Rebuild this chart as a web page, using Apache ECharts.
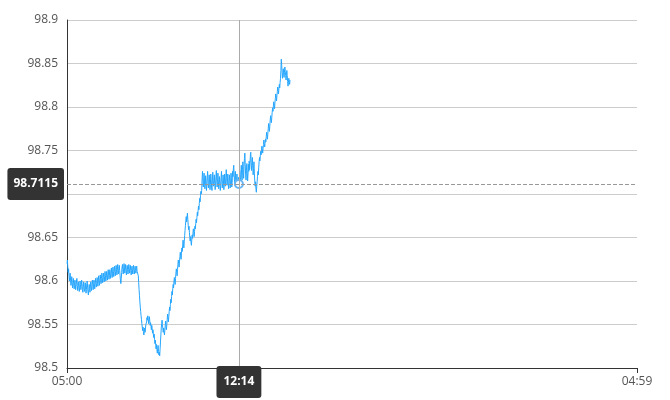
<!DOCTYPE html>
<html>
<head>
<meta charset="utf-8">
<script src="https://cdn.jsdelivr.net/npm/echarts@6/dist/echarts.min.js"></script>
<style>
html,body{margin:0;padding:0;background:#fff;}
#chart{width:670px;height:400px;}
</style>
</head>
<body>
<div id="chart"></div>
<script>
// X categories: one per minute from 05:00 to 04:59 next day
const startMinute = 300;
const minuteCount = 1440;
const categories = [];
for (let i = 0; i < minuteCount; i++) {
  const m = (startMinute + i) % 1440;
  categories.push(String(Math.floor(m / 60)).padStart(2, '0') + ':' + String(m % 60).padStart(2, '0'));
}

// Y axis range / ticks
const yMin = 98.5, yMax = 98.9, yStep = 0.05;

// Hovered point
const hoverIndex = 434; // 12:14

// Series values (per minute from 05:00)
const priceValues = [
98.620,98.624,98.616,98.610,98.614,98.606,98.600,98.605,98.609,98.601,98.595,98.599,98.605,98.598,98.592,98.596,98.603,98.597,98.591,98.595,
98.601,98.596,98.590,98.594,98.600,98.603,98.595,98.589,98.593,98.599,98.594,98.588,98.592,98.600,98.596,98.590,98.594,98.601,98.597,98.590,
98.587,98.593,98.599,98.594,98.588,98.591,98.598,98.592,98.586,98.590,98.597,98.600,98.593,98.587,98.584,98.590,98.596,98.591,98.587,98.594,
98.599,98.593,98.589,98.595,98.601,98.596,98.590,98.594,98.601,98.597,98.591,98.596,98.603,98.598,98.593,98.597,98.604,98.599,98.594,98.600,
98.606,98.601,98.595,98.600,98.607,98.602,98.597,98.603,98.609,98.604,98.598,98.602,98.609,98.604,98.599,98.605,98.611,98.606,98.600,98.604,
98.611,98.606,98.601,98.607,98.613,98.608,98.602,98.606,98.613,98.609,98.603,98.608,98.615,98.609,98.604,98.609,98.616,98.611,98.605,98.610,
98.617,98.612,98.606,98.611,98.618,98.613,98.607,98.612,98.619,98.614,98.608,98.613,98.618,98.612,98.606,98.600,98.597,98.603,98.610,98.616,
98.619,98.613,98.608,98.614,98.620,98.615,98.609,98.613,98.619,98.614,98.607,98.612,98.618,98.613,98.608,98.613,98.619,98.614,98.609,98.614,
98.618,98.612,98.607,98.612,98.617,98.613,98.608,98.614,98.618,98.612,98.608,98.613,98.617,98.612,98.609,98.614,98.617,98.611,98.613,98.611,
98.606,98.598,98.590,98.583,98.576,98.570,98.565,98.560,98.556,98.551,98.547,98.543,98.547,98.542,98.538,98.542,98.546,98.541,98.545,98.550,
98.548,98.553,98.558,98.555,98.560,98.556,98.551,98.555,98.559,98.554,98.549,98.552,98.548,98.544,98.549,98.545,98.540,98.544,98.539,98.535,
98.539,98.533,98.528,98.532,98.526,98.522,98.527,98.521,98.517,98.522,98.526,98.519,98.515,98.518,98.514,98.522,98.530,98.538,98.546,98.551,
98.555,98.550,98.545,98.541,98.546,98.543,98.538,98.543,98.549,98.554,98.548,98.544,98.550,98.556,98.562,98.558,98.553,98.559,98.565,98.570,
98.566,98.573,98.579,98.575,98.582,98.588,98.584,98.591,98.596,98.592,98.599,98.604,98.600,98.596,98.603,98.609,98.614,98.610,98.606,98.613,
98.619,98.624,98.620,98.616,98.622,98.628,98.633,98.629,98.625,98.632,98.638,98.634,98.641,98.647,98.643,98.638,98.645,98.652,98.658,98.664,
98.669,98.674,98.668,98.673,98.678,98.671,98.664,98.659,98.663,98.656,98.650,98.646,98.651,98.645,98.641,98.647,98.653,98.649,98.655,98.660,
98.656,98.651,98.657,98.663,98.660,98.666,98.671,98.667,98.673,98.679,98.675,98.681,98.686,98.682,98.689,98.695,98.691,98.698,98.703,98.700,
98.704,98.716,98.726,98.719,98.708,98.713,98.724,98.716,98.706,98.710,98.721,98.714,98.704,98.709,98.719,98.726,98.715,98.707,98.712,98.722,
98.713,98.705,98.711,98.723,98.717,98.708,98.704,98.715,98.725,98.716,98.709,98.713,98.722,98.712,98.705,98.710,98.720,98.727,98.716,98.708,
98.713,98.724,98.715,98.706,98.711,98.720,98.713,98.704,98.709,98.719,98.726,98.714,98.707,98.712,98.722,98.715,98.705,98.711,98.723,98.716,
98.709,98.718,98.728,98.719,98.710,98.714,98.723,98.713,98.706,98.712,98.722,98.716,98.707,98.711,98.724,98.718,98.708,98.713,98.726,98.720,
98.729,98.733,98.721,98.712,98.717,98.726,98.716,98.708,98.714,98.723,98.715,98.707,98.713,98.719,98.7115,98.717,98.727,98.719,98.712,98.724,
98.733,98.722,98.716,98.728,98.737,98.725,98.718,98.732,98.741,98.747,98.734,98.722,98.716,98.727,98.735,98.724,98.715,98.723,98.734,98.726,
98.738,98.728,98.735,98.745,98.748,98.736,98.727,98.734,98.742,98.731,98.722,98.729,98.737,98.724,98.715,98.709,98.714,98.706,98.702,98.709,
98.714,98.720,98.726,98.722,98.730,98.737,98.742,98.738,98.744,98.749,98.745,98.750,98.755,98.751,98.747,98.752,98.757,98.762,98.758,98.754,
98.758,98.763,98.760,98.766,98.771,98.767,98.763,98.769,98.775,98.781,98.777,98.772,98.778,98.785,98.790,98.786,98.782,98.788,98.794,98.799,
98.795,98.801,98.806,98.802,98.798,98.805,98.810,98.815,98.811,98.807,98.813,98.818,98.823,98.819,98.815,98.821,98.826,98.822,98.828,98.833,
98.842,98.855,98.848,98.840,98.833,98.838,98.844,98.839,98.834,98.840,98.846,98.841,98.836,98.831,98.837,98.842,98.836,98.829,98.824,98.828,
98.833,98.829,98.826,98.831
];

const FONT = '"Open Sans", "Noto Sans", sans-serif';
const endsOnly = function (idx) { return idx === 0 || idx === minuteCount - 1; };

const chart = echarts.init(document.getElementById('chart'), null, { renderer: 'canvas' });
chart.setOption({
  animation: false,
  textStyle: { fontFamily: FONT },
  grid: { left: 67, right: 33, top: 20, bottom: 32, containLabel: false },
  tooltip: {
    trigger: 'axis',
    showContent: false,
    axisPointer: { type: 'line' }
  },
  xAxis: {
    type: 'category',
    boundaryGap: false,
    data: categories,
    axisLine: { show: true, lineStyle: { color: '#333', width: 1 } },
    axisTick: { show: true, interval: endsOnly, length: 5, lineStyle: { color: '#333' } },
    axisLabel: { interval: endsOnly, color: '#555', fontSize: 12, fontFamily: FONT, margin: 8 },
    splitLine: { show: false },
    axisPointer: {
      show: true,
      type: 'line',
      lineStyle: { color: '#aaa', width: 1, type: 'solid' },
      label: {
        show: true,
        backgroundColor: '#333',
        color: '#fff',
        fontWeight: 'bold',
        fontSize: 12,
        fontFamily: FONT,
        padding: [10, 7, 10, 7],
        margin: -2
      }
    }
  },
  yAxis: {
    type: 'value',
    min: yMin,
    max: yMax,
    interval: yStep,
    axisLine: { show: true, lineStyle: { color: '#333', width: 1 } },
    axisTick: { show: false },
    axisLabel: { color: '#555', fontSize: 12, fontFamily: FONT, margin: 9 },
    splitLine: { show: true, lineStyle: { color: '#ccc', width: 1 } },
    axisPointer: {
      show: true,
      type: 'line',
      snap: false,
      lineStyle: { color: '#999', width: 1, type: 'dashed' },
      label: {
        show: true,
        backgroundColor: '#333',
        color: '#fff',
        fontWeight: 'bold',
        fontSize: 12,
        fontFamily: FONT,
        padding: [10, 6, 10, 6],
        margin: 3,
        formatter: function (p) { return Number(p.value).toFixed(4); }
      }
    }
  },
  series: [{
    type: 'line',
    data: priceValues,
    showSymbol: false,
    symbol: 'emptyCircle',
    symbolSize: 8,
    lineStyle: { color: '#2196f3', width: 1 },
    itemStyle: { color: '#64b5f6', borderWidth: 1 },
    emphasis: { scale: false, lineStyle: { width: 1 } }
  }]
});

function hover() {
  const pt = chart.convertToPixel({ seriesIndex: 0 }, [hoverIndex, priceValues[hoverIndex]]);
  chart.dispatchAction({ type: 'showTip', x: pt[0], y: pt[1] });
}
hover();
setTimeout(hover, 50);
</script>
</body>
</html>
